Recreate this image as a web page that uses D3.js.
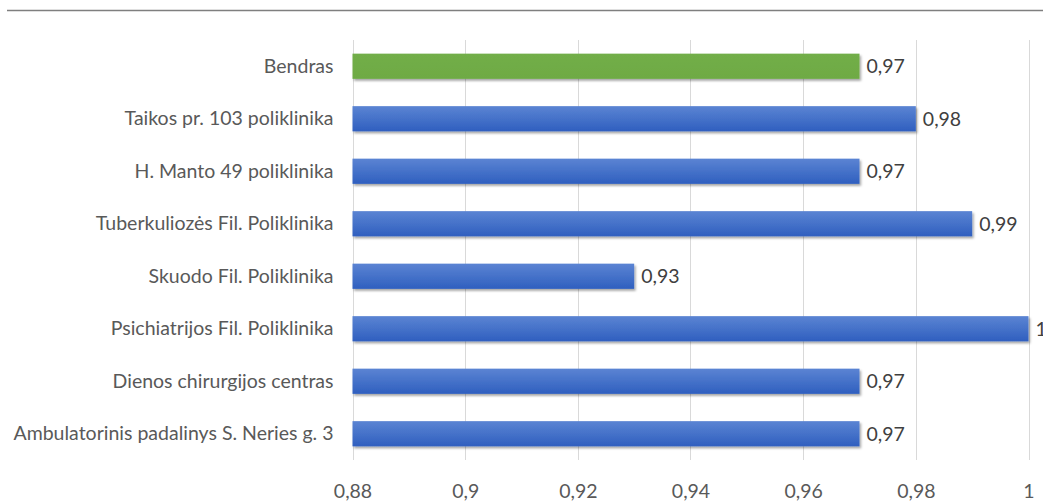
<!DOCTYPE html>
<html>
<head>
<meta charset="utf-8">
<script src="https://cdn.jsdelivr.net/npm/d3@7"></script>
<style>
  html, body { margin: 0; padding: 0; background: #fff; }
  svg { display: block; }
</style>
</head>
<body>
<svg id="chart" width="1043" height="504"></svg>
<script>
// Categories, top to bottom
const categories = [
  "Bendras",
  "Taikos pr. 103 poliklinika",
  "H. Manto 49 poliklinika",
  "Tuberkuliozės Fil. Poliklinika",
  "Skuodo Fil. Poliklinika",
  "Psichiatrijos Fil. Poliklinika",
  "Dienos chirurgijos centras",
  "Ambulatorinis padalinys S. Neries g. 3"
];
const values = [0.97, 0.98, 0.97, 0.99, 0.93, 1, 0.97, 0.97];
const highlighted = ["Bendras"];
const tickValues = [0.88, 0.9, 0.92, 0.94, 0.96, 0.98, 1];

const svg = d3.select("#chart");
const W = 1043, H = 504;
const margin = { top: 40, right: 15, bottom: 44, left: 352.5 };
const fontFamily = "Lato, 'Open Sans', sans-serif";

const fmt = v => String(+v.toFixed(2)).replace(".", ",");

const x = d3.scaleLinear().domain([0.88, 1]).range([margin.left, 1028.5]);
const y = d3.scaleBand().domain(categories).range([margin.top, H - margin.bottom]).paddingInner(0.52).paddingOuter(0.26);

// defs: gradients and bar shadow
const defs = svg.append("defs");
const addGrad = (id, top, bottom) => {
  const g = defs.append("linearGradient").attr("id", id).attr("x1", 0).attr("y1", 0).attr("x2", 0).attr("y2", 1);
  g.append("stop").attr("offset", "0%").attr("stop-color", top);
  g.append("stop").attr("offset", "100%").attr("stop-color", bottom);
};
addGrad("gBlue", "#5b84d3", "#2f5fbf");
addGrad("gGreen", "#72ae48", "#6eaa44");
const f = defs.append("filter").attr("id", "shadow").attr("x", "-5%").attr("y", "-40%").attr("width", "110%").attr("height", "200%");
f.append("feDropShadow").attr("dx", 1.5).attr("dy", 2).attr("stdDeviation", 1.3).attr("flood-color", "#000").attr("flood-opacity", 0.35);

// top rule
svg.append("line")
  .attr("x1", 7).attr("x2", W).attr("y1", 10.5).attr("y2", 10.5)
  .attr("stroke", "#7f7f7f").attr("stroke-width", 1.3);

// vertical gridlines
svg.append("g").selectAll("line").data(tickValues).join("line")
  .attr("x1", d => Math.round(x(d)) + 0.5).attr("x2", d => Math.round(x(d)) + 0.5)
  .attr("y1", margin.top).attr("y2", H - margin.bottom)
  .attr("stroke", "#d9d9d9").attr("stroke-width", 1);

// x axis tick labels
const xAxis = d3.axisBottom(x).tickValues(tickValues).tickFormat(fmt).tickSize(0).tickPadding(0);
const gx = svg.append("g").attr("transform", `translate(0, ${H - margin.bottom + 24})`).call(xAxis);
gx.select(".domain").remove();
gx.selectAll("text")
  .attr("font-family", fontFamily).attr("font-size", 19.5).attr("fill", "#595959");

// bars
svg.append("g").selectAll("rect").data(categories).join("rect")
  .attr("x", x(0.88))
  .attr("y", d => y(d))
  .attr("width", (d, i) => x(values[i]) - x(0.88))
  .attr("height", y.bandwidth())
  .attr("fill", d => highlighted.includes(d) ? "url(#gGreen)" : "url(#gBlue)")
  .attr("filter", "url(#shadow)");

// category labels
const yAxis = d3.axisLeft(y).tickSize(0).tickPadding(19);
const gy = svg.append("g").attr("transform", `translate(${margin.left}, 0)`).call(yAxis);
gy.select(".domain").remove();
gy.selectAll("text")
  .attr("font-family", fontFamily).attr("font-size", 19.5).attr("fill", "#595959");

// value labels
svg.append("g").selectAll("text").data(categories).join("text")
  .attr("x", (d, i) => x(values[i]) + 7)
  .attr("y", d => y(d) + y.bandwidth() / 2)
  .attr("dy", "0.35em")
  .attr("font-family", fontFamily).attr("font-size", 19.5).attr("fill", "#404040")
  .text((d, i) => fmt(values[i]));
</script>
</body>
</html>
